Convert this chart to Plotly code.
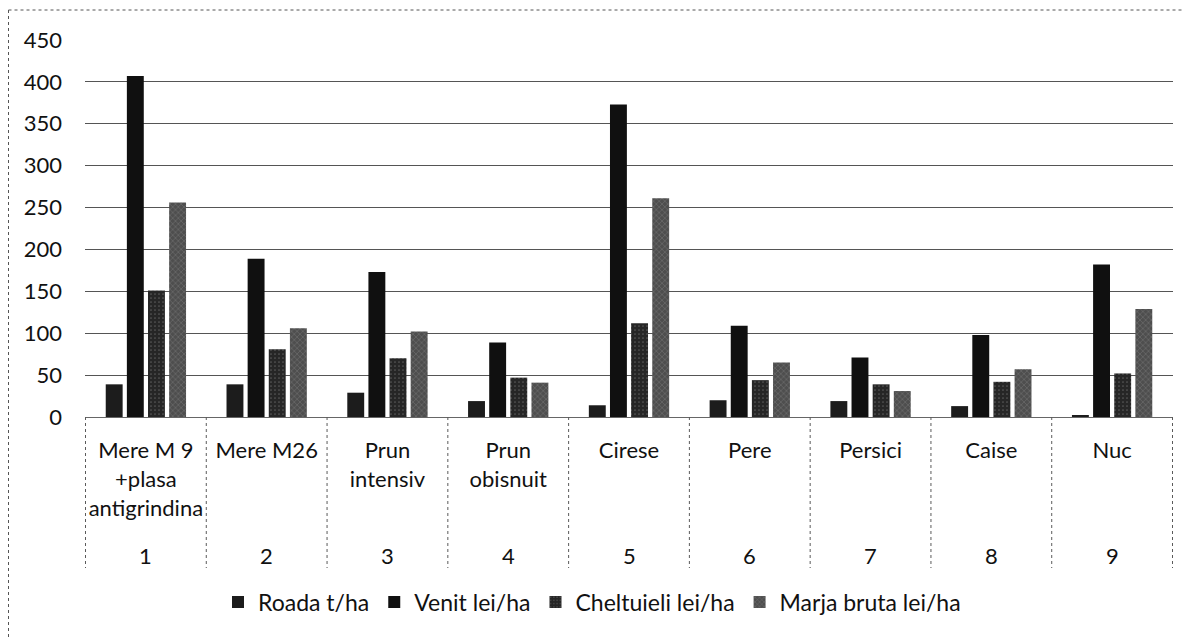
import plotly.graph_objects as go

categories = ["Mere M 9<br>+plasa<br>antigrindina", "Mere M26", "Prun<br>intensiv", "Prun<br>obisnuit",
              "Cirese", "Pere", "Persici", "Caise", "Nuc"]
numbers = ["1", "2", "3", "4", "5", "6", "7", "8", "9"]

roada = [39, 39, 29, 19, 14, 20, 19, 13, 2]
venit = [407, 189, 173, 89, 373, 109, 71, 98, 182]
cheltuieli = [151, 81, 70, 47, 112, 44, 39, 42, 52]
marja = [256, 106, 102, 41, 261, 65, 31, 57, 129]

series_names = ["Roada t/ha", "Venit lei/ha", "Cheltuieli lei/ha", "Marja bruta lei/ha"]

FONT = "Lato"
fig = go.Figure()
fig.add_bar(x=categories, y=roada, name=series_names[0], marker=dict(color="#1c1c1c"))
fig.add_bar(x=categories, y=venit, name=series_names[1], marker=dict(color="#101010"))
fig.add_bar(x=categories, y=cheltuieli, name=series_names[2],
            marker=dict(color="#262626", pattern=dict(shape=".", fgcolor="#8a8a8a", bgcolor="#262626",
                                                      size=4, solidity=0.15)))
fig.add_bar(x=categories, y=marja, name=series_names[3],
            marker=dict(color="#4e4e4e", pattern=dict(shape="x", fgcolor="#9a9a9a", bgcolor="#4e4e4e",
                                                      size=4, solidity=0.25)))
for tr in fig.data:
    tr.marker.line = dict(width=0)

# page offset (browser body margin)
OFF = 8
W, H = 1190, 637
PL, PR, PT, PB = 85, 1173, 40, 417   # plot area in screen pixels
L = PL - OFF
T = PT - OFF
pw = PR - PL
ph = PB - PT
R = W - L - pw
B = H - T - ph

def px_x(x):
    return (x - PL) / pw

def px_y(y):
    return (PB - y) / ph

shapes = []
for i in range(len(categories) + 1):
    shapes.append(dict(type="line", xref="x", yref="paper", x0=i - 0.5, x1=i - 0.5,
                       y0=0, y1=px_y(568), line=dict(color="#5a5a5a", width=1, dash="dot")))
# outer chart frame (top and left edges visible in the reference)
border = dict(color="#555555", width=1, dash="dot")
shapes.append(dict(type="line", xref="paper", yref="paper", x0=px_x(OFF + 0.5), x1=px_x(1190),
                   y0=px_y(10), y1=px_y(10), line=border))
shapes.append(dict(type="line", xref="paper", yref="paper", x0=px_x(OFF + 0.5), x1=px_x(OFF + 0.5),
                   y0=px_y(10), y1=px_y(640), line=border))

annotations = []
for c, n in zip(categories, numbers):
    annotations.append(dict(x=c, xref="x", yref="paper", y=px_y(555), text=n, showarrow=False,
                            xanchor="center", yanchor="middle", font=dict(family=FONT, size=22, color="#111")))

fig.update_layout(
    width=W, height=H,
    margin=dict(l=L, r=R, t=T, b=B),
    paper_bgcolor="white", plot_bgcolor="white",
    barmode="group", bargap=0.3, bargroupgap=0.2,
    font=dict(family=FONT, size=22, color="#111"),
    shapes=shapes,
    annotations=annotations,
    legend=dict(orientation="h", x=px_x(592), xanchor="center", y=px_y(602), yanchor="middle",
                font=dict(family=FONT, size=23, color="#111"), itemwidth=30,
                traceorder="normal", bgcolor="rgba(0,0,0,0)"),
    showlegend=True,
)
fig.update_xaxes(showgrid=False, showline=True, linecolor="#666", linewidth=1,
                 tickfont=dict(family=FONT, size=22, color="#111"), ticks="",
                 ticklabelstandoff=14, zeroline=False)
fig.update_yaxes(range=[0, 450], dtick=50, showgrid=True, gridcolor="#555555", gridwidth=1,
                 showline=False, zeroline=False, ticks="",
                 tickfont=dict(family=FONT, size=22, color="#111"), ticklabelstandoff=22)

fig.write_html("out.html")
